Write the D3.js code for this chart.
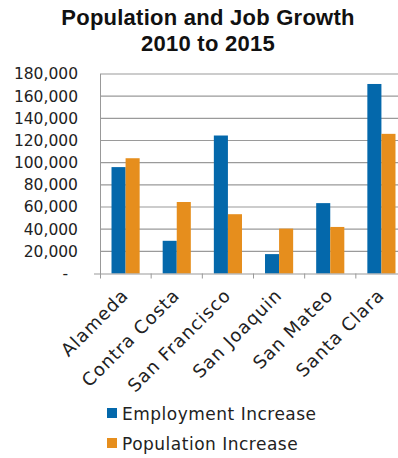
<!DOCTYPE html>
<html>
<head>
<meta charset="utf-8">
<script src="https://cdn.jsdelivr.net/npm/d3@7"></script>
<style>
  body { margin: 0; background: #fff; }
  svg { display: block; }
</style>
</head>
<body>
<div id="chart"></div>
<script>
var counties = ["Alameda", "Contra Costa", "San Francisco", "San Joaquin", "San Mateo", "Santa Clara"];
var employment = [96000, 29500, 124500, 17500, 63500, 171000];
var population = [104000, 64500, 53500, 40500, 42000, 126000];
var yTicks = [0, 20000, 40000, 60000, 80000, 100000, 120000, 140000, 160000, 180000];
var seriesNames = ["Employment Increase", "Population Increase"];
var colors = ["#0468AB", "#E68E1D"];

var W = 398, H = 458;
var margin = {top: 74, left: 100},
    plotW = 307, plotH = 199.5;

var svg = d3.select("#chart").append("svg")
    .attr("width", W)
    .attr("height", H);

// title, two lines
var titleLines = ["Population and Job Growth", "2010 to 2015"];
svg.selectAll(".title")
  .data(titleLines)
  .enter().append("text")
    .attr("x", 208)
    .attr("y", function(d, i) { return 25 + i * 26; })
    .attr("text-anchor", "middle")
    .attr("font-family", "Liberation Sans, Arial, sans-serif")
    .attr("font-weight", "bold")
    .attr("font-size", 22)
    .attr("letter-spacing", 0.25)
    .attr("fill", "#111")
    .text(function(d) { return d; });

var g = svg.append("g")
    .attr("transform", "translate(" + margin.left + "," + margin.top + ")");

var x = d3.scaleBand()
    .domain(counties)
    .range([0, plotW])
    .paddingInner(0.45)
    .paddingOuter(0.225);

var x1 = d3.scaleBand()
    .domain([0, 1])
    .range([0, x.bandwidth()]);

var y = d3.scaleLinear()
    .domain([0, 180000])
    .range([plotH, 0]);

// gridlines
g.selectAll(".grid")
  .data(yTicks.slice(1))
  .enter().append("line")
    .attr("x1", 0)
    .attr("x2", plotW)
    .attr("y1", function(d) { return y(d); })
    .attr("y2", function(d) { return y(d); })
    .attr("stroke", "#9a9a9a")
    .attr("stroke-width", 1.2);

// y axis
var yAxis = d3.axisLeft(y)
    .tickValues(yTicks)
    .tickSize(0)
    .tickPadding(22)
    .tickFormat(function(d) { return d === 0 ? "-" : d3.format(",")(d); });

g.append("g")
    .call(yAxis)
    .call(function(s) { s.select(".domain").remove(); })
    .selectAll("text")
      .attr("font-family", "DejaVu Sans, sans-serif")
      .attr("font-size", 15.5)
      .attr("fill", "#222")
      .attr("dx", function(d) { return d === 0 ? -10 : 0; });

// bars
var groups = g.selectAll(".county")
  .data(counties)
  .enter().append("g")
    .attr("transform", function(d) { return "translate(" + x(d) + ",0)"; });

groups.selectAll("rect")
  .data(function(d, i) { return [employment[i], population[i]]; })
  .enter().append("rect")
    .attr("x", function(d, j) { return x1(j); })
    .attr("width", x1.bandwidth())
    .attr("y", function(d) { return y(d); })
    .attr("height", function(d) { return plotH - y(d); })
    .attr("fill", function(d, j) { return colors[j]; });

// x axis line and ticks
var step = x.step();
g.append("line")
    .attr("x1", -6).attr("x2", plotW)
    .attr("y1", plotH + 0.5).attr("y2", plotH + 0.5)
    .attr("stroke", "#999");
g.append("line")
    .attr("x1", 0.5).attr("x2", 0.5)
    .attr("y1", 0).attr("y2", plotH + 5)
    .attr("stroke", "#999");
g.selectAll(".xtick")
  .data(counties)
  .enter().append("line")
    .attr("x1", function(d) { return x(d) - x.step() * x.paddingInner() / 2 + step; })
    .attr("x2", function(d) { return x(d) - x.step() * x.paddingInner() / 2 + step; })
    .attr("y1", plotH)
    .attr("y2", plotH + 5)
    .attr("stroke", "#999");

// category labels
g.selectAll(".xlabel")
  .data(counties)
  .enter().append("text")
    .attr("transform", function(d) {
      return "translate(" + (x(d) + x.bandwidth() / 2 + 4) + "," + (plotH + 23) + ") rotate(-45)";
    })
    .attr("text-anchor", "end")
    .attr("font-family", "DejaVu Sans, sans-serif")
    .attr("font-size", 18)
    .attr("letter-spacing", 1)
    .attr("fill", "#222")
    .text(function(d) { return d; });

// legend
var legend = svg.selectAll(".legend")
  .data(seriesNames)
  .enter().append("g")
    .attr("transform", function(d, i) { return "translate(107," + (408 + i * 30) + ")"; });

legend.append("rect")
    .attr("width", 10)
    .attr("height", 10)
    .attr("fill", function(d, i) { return colors[i]; });

legend.append("text")
    .attr("x", 15)
    .attr("y", 12)
    .attr("font-family", "DejaVu Sans, sans-serif")
    .attr("font-size", 17)
    .attr("letter-spacing", 0.5)
    .attr("fill", "#222")
    .text(function(d) { return d; });
</script>
</body>
</html>
